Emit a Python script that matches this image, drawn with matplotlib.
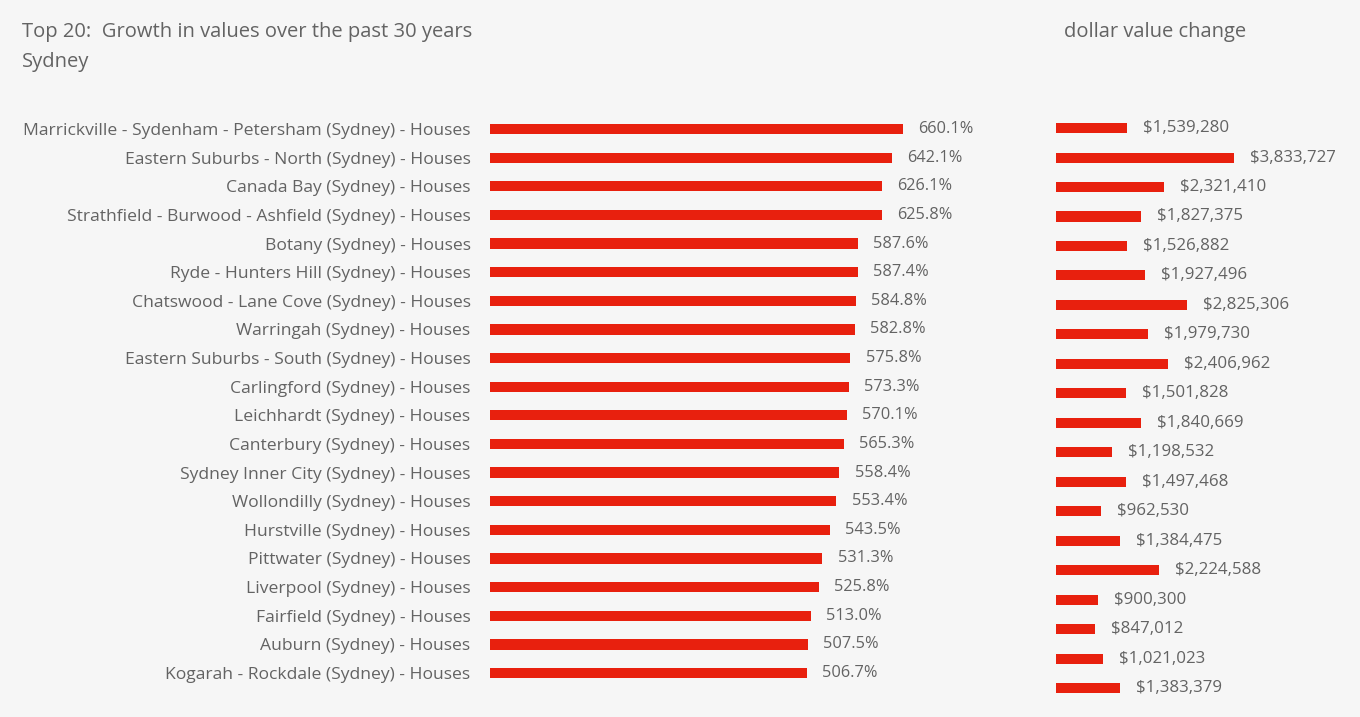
import matplotlib
matplotlib.use("Agg")
import matplotlib.pyplot as plt

# data
regions = [
    "Marrickville - Sydenham - Petersham (Sydney) - Houses",
    "Eastern Suburbs - North (Sydney) - Houses",
    "Canada Bay (Sydney) - Houses",
    "Strathfield - Burwood - Ashfield (Sydney) - Houses",
    "Botany (Sydney) - Houses",
    "Ryde - Hunters Hill (Sydney) - Houses",
    "Chatswood - Lane Cove (Sydney) - Houses",
    "Warringah (Sydney) - Houses",
    "Eastern Suburbs - South (Sydney) - Houses",
    "Carlingford (Sydney) - Houses",
    "Leichhardt (Sydney) - Houses",
    "Canterbury (Sydney) - Houses",
    "Sydney Inner City (Sydney) - Houses",
    "Wollondilly (Sydney) - Houses",
    "Hurstville (Sydney) - Houses",
    "Pittwater (Sydney) - Houses",
    "Liverpool (Sydney) - Houses",
    "Fairfield (Sydney) - Houses",
    "Auburn (Sydney) - Houses",
    "Kogarah - Rockdale (Sydney) - Houses",
]
growth_pct = [660.1, 642.1, 626.1, 625.8, 587.6, 587.4, 584.8, 582.8, 575.8, 573.3,
              570.1, 565.3, 558.4, 553.4, 543.5, 531.3, 525.8, 513.0, 507.5, 506.7]
dollar_change = [1539280, 3833727, 2321410, 1827375, 1526882, 1927496, 2825306,
                 1979730, 2406962, 1501828, 1840669, 1198532, 1497468, 962530,
                 1384475, 2224588, 900300, 847012, 1021023, 1383379]

RED = "#e8200e"
TXT = "#636363"
BG = "#f6f6f6"

plt.rcParams["font.family"] = ["Open Sans", "DejaVu Sans"]

fig = plt.figure(figsize=(13.6, 7.17), dpi=100, facecolor=BG)

# left panel: % growth
ax1 = fig.add_axes([0.3603, 0.0414, 0.375, 0.7986])
ys = list(range(len(regions)))
ax1.barh(ys, growth_pct, height=0.36, color=RED)
ax1.set_ylim(len(regions) - 0.5, -0.5)
ax1.set_xlim(0, 815)
ax1.set_yticks(ys)
ax1.set_yticklabels(regions, fontsize=12.6, color=TXT)
ax1.tick_params(axis="y", length=0, pad=14)
ax1.set_xticks([])
for y, v in zip(ys, growth_pct):
    ax1.annotate(f"{v:.1f}%", (v, y), xytext=(11, 0), textcoords="offset points",
                 va="center", ha="left", fontsize=11.8, color=TXT)

# right panel: dollar value change
ax2 = fig.add_axes([0.7765, 0.0199, 0.2235, 0.822])
ax2.barh(ys, dollar_change, height=0.34, color=RED)
ax2.set_ylim(len(regions) - 0.5, -0.5)
ax2.set_xlim(0, 6.55e6)
ax2.set_xticks([])
ax2.set_yticks([])
for y, v in zip(ys, dollar_change):
    ax2.annotate(f"${v:,}", (v, y), xytext=(11.5, 0), textcoords="offset points",
                 va="center", ha="left", fontsize=12.2, color=TXT)

for ax in (ax1, ax2):
    ax.set_facecolor("none")
    for s in ax.spines.values():
        s.set_visible(False)

fig.text(22 / 1360, 1 - 32 / 717, "Top 20:  Growth in values over the past 30 years",
         fontsize=14.5, color=TXT, va="center", ha="left")
fig.text(22 / 1360, 1 - 62 / 717, "Sydney", fontsize=14.5, color=TXT, va="center", ha="left")
fig.text(1064 / 1360, 1 - 32 / 717, "dollar value change", fontsize=14.5, color=TXT,
         va="center", ha="left")

fig.savefig("out.png", dpi=100, facecolor=BG)
